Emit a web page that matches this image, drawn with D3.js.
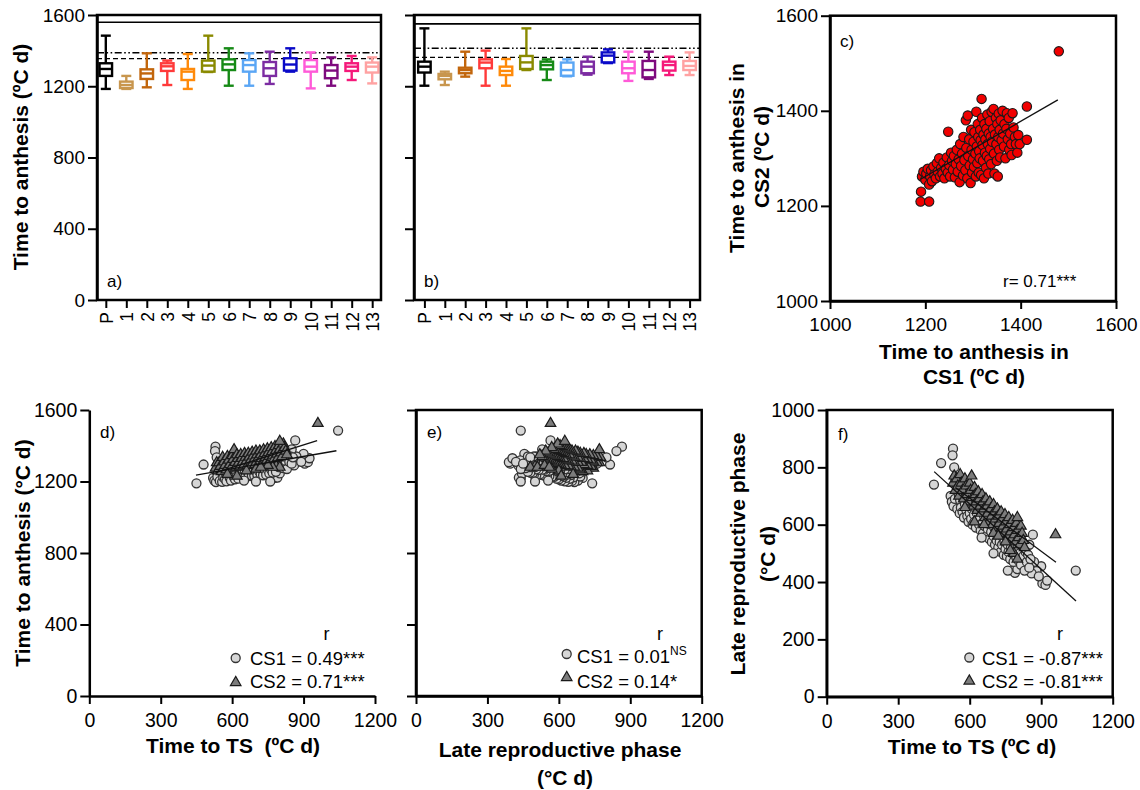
<!DOCTYPE html>
<html><head><meta charset="utf-8">
<script src="https://cdn.jsdelivr.net/npm/d3@7"></script>
<style>
body{margin:0;background:#fff}
svg text{font-family:"Liberation Sans",Arial,Helvetica,sans-serif;fill:#000;white-space:pre}
</style></head><body>
<svg id="fig" width="1140" height="790"></svg>
<script>
// Genotype groups (parent P and families 1-13)
const categories = ["P","1","2","3","4","5","6","7","8","9","10","11","12","13"];
const boxColors = ["#000000","#c8964e","#c2660c","#ff3a3a","#ff8a0a","#8a8a00","#168a16",
                   "#5aa6f5","#7c2ca2","#0a0ac8","#ff5ad8","#7e0a7e","#f5197a","#ffa2a2"];

// Time to anthesis (ºC d): [min, q1, median, q3, max] per group
const boxStatsCS1 = [
  [1185,1258,1297,1329,1484],[1185,1190,1207,1226,1258],[1194,1241,1272,1295,1385],
  [1207,1286,1312,1329,1344],[1185,1235,1282,1297,1381],[1280,1282,1316,1344,1484],
  [1203,1291,1323,1351,1413],[1203,1282,1319,1347,1385],[1213,1258,1301,1336,1394],
  [1282,1288,1322,1357,1413],[1188,1282,1310,1347,1390],[1203,1245,1288,1319,1362],
  [1235,1286,1310,1329,1370],[1216,1277,1310,1333,1362]
];
const boxStatsCS2 = [
  [1203,1277,1310,1338,1525],[1207,1239,1258,1269,1282],[1254,1273,1291,1304,1394],
  [1203,1301,1333,1351,1400],[1203,1263,1286,1310,1353],[1291,1297,1334,1370,1525],
  [1235,1295,1319,1338,1351],[1256,1259,1291,1333,1351],[1265,1273,1310,1338,1366],
  [1330,1334,1372,1390,1407],[1230,1273,1301,1338,1394],[1241,1250,1291,1342,1394],
  [1263,1288,1319,1338,1366],[1263,1291,1314,1342,1390]
];
// Reference lines: solid, dash-dot-dot, dashed
const refLinesCS1 = [1559,1388,1355];
const refLinesCS2 = [1550,1413,1362];

// Time to anthesis in CS1 vs CS2 (ºC d), one pair per genotype
const anthesisCS1CS2 = [
  [1190,1209],[1208,1209],[1191,1230],[1193,1262],[1196,1272],[1200,1255],[1202,1268],[1205,1278],
  [1208,1245],[1210,1262],[1212,1275],[1214,1252],[1217,1283],[1219,1266],[1222,1258],[1224,1290],
  [1226,1272],[1229,1300],[1231,1262],[1233,1280],[1236,1268],[1238,1291],[1240,1258],[1243,1278],
  [1245,1302],[1247,1270],[1248,1356],[1250,1286],[1252,1262],[1254,1312],[1256,1295],[1258,1276],
  [1260,1305],[1262,1260],[1264,1288],[1266,1318],[1268,1272],[1270,1298],[1272,1250],[1273,1330],
  [1275,1284],[1277,1310],[1279,1264],[1280,1345],[1282,1296],[1284,1275],[1285,1380],[1286,1322],
  [1288,1258],[1289,1390],[1290,1305],[1292,1340],[1293,1285],[1295,1248],[1296,1360],[1297,1318],
  [1298,1270],[1300,1298],[1301,1335],[1302,1282],[1303,1355],[1305,1310],[1306,1262],[1307,1398],
  [1308,1325],[1309,1290],[1310,1372],[1311,1345],[1312,1270],[1313,1315],[1314,1300],[1315,1360],
  [1316,1338],[1317,1265],[1318,1425],[1319,1385],[1320,1328],[1321,1295],[1322,1350],[1323,1258],
  [1324,1372],[1325,1312],[1326,1340],[1327,1280],[1328,1362],[1329,1305],[1330,1392],[1331,1330],
  [1332,1268],[1333,1352],[1334,1298],[1335,1378],[1336,1320],[1337,1345],[1338,1288],[1339,1398],
  [1340,1335],[1342,1362],[1343,1404],[1344,1310],[1345,1268],[1346,1350],[1348,1385],[1349,1330],
  [1350,1295],[1351,1372],[1352,1262],[1353,1345],[1354,1394],[1355,1318],[1356,1360],[1357,1302],
  [1358,1380],[1360,1338],[1362,1400],[1363,1352],[1365,1325],[1366,1372],[1368,1300],[1370,1362],
  [1371,1395],[1373,1340],[1375,1385],[1376,1318],[1378,1352],[1380,1330],[1381,1307],[1383,1395],
  [1385,1365],[1388,1345],[1390,1330],[1393,1312],[1395,1349],[1398,1330],[1413,1409],[1413,1339],
  [1480,1525]
];

// [time to TS, late reproductive phase] (ºC d) per genotype
const phasesCS1 = [
  [450,740],[480,815],[530,865],[528,842],[535,800],[540,760],[1045,440],[905,395],[918,390],[925,405],
  [900,455],[880,438],[860,430],[870,470],[890,420],[850,530],[865,565],[780,440],[790,432],[800,445],
  [520,700],[525,680],[532,665],[538,690],[545,740],[548,655],[552,720],[555,700],[558,640],[560,685],
  [563,660],[567,710],[570,645],[573,690],[576,625],[580,672],[583,700],[586,650],[590,630],[592,685],
  [595,610],[598,660],[600,640],[603,700],[606,620],[609,655],[612,600],[615,680],[618,635],[620,610],
  [623,660],[626,590],[630,640],[633,615],[636,670],[640,600],[643,625],[646,580],[650,650],[653,605],
  [656,570],[660,630],[663,595],[666,640],[670,560],[673,610],[676,585],[680,625],[683,550],[686,600],
  [690,575],[693,540],[696,610],[700,560],[703,590],[706,530],[710,575],[713,545],[716,600],[720,520],
  [723,565],[726,540],[730,505],[733,580],[736,530],[740,555],[743,495],[746,540],[750,515],[753,570],
  [756,490],[760,530],[763,505],[766,555],[770,480],[773,520],[776,545],[780,500],[784,470],[788,530],
  [792,505],[796,485],[800,520],[805,475],[810,500],[815,460],[820,530],[825,490],[830,440],[835,505],
  [840,470],[845,495],[850,450],[855,480],[700,500],[760,440],[650,555]
];
const phasesCS2 = [
  [530,745],[535,770],[540,720],[545,760],[550,735],[555,700],[560,775],[565,745],[570,720],[575,690],
  [580,760],[585,735],[590,705],[595,680],[600,745],[604,720],[608,770],[612,695],[616,665],[620,730],
  [624,705],[628,680],[632,650],[636,715],[640,690],[644,665],[648,640],[652,705],[656,680],[660,655],
  [664,625],[668,690],[672,665],[676,640],[680,610],[684,680],[688,655],[692,630],[696,600],[700,670],
  [704,645],[708,620],[712,590],[716,655],[720,630],[724,605],[728,580],[732,645],[736,620],[740,595],
  [744,570],[748,635],[752,610],[756,585],[760,560],[764,625],[768,600],[772,575],[776,550],[780,615],
  [784,590],[788,565],[792,540],[796,605],[800,580],[805,555],[810,530],[815,595],[820,570],[825,545],
  [830,520],[785,500],[800,480],[770,510],[660,600],[700,570],[620,610],[580,660],[750,540],[720,560],
  [800,625],[960,565]
];

// Fitted regression lines (end points)
const fitC = [[1190,1256],[1478,1423]];
const fitD_CS1 = [[448,1236],[1038,1372]];
const fitD_CS2 = [[530,1250],[957,1428]];
const fitF_CS1 = [[451,785],[1046,334]];
const fitF_CS2 = [[540,730],[962,469]];

// Correlation legends
const legendD = ["CS1 = 0.49***","CS2 = 0.71***"];
const legendE = [["CS1 = 0.01","NS"],["CS2 = 0.14*",""]];
const legendF = ["CS1 = -0.87***","CS2 = -0.81***"];

const ticksAnth = [0,400,800,1200,1600];
const ticksC = [1000,1200,1400,1600];
const ticksTS = [0,300,600,900,1200];
const ticksLRP = [0,200,400,600,800,1000];

// ---------------------------------------------------------------
const svg = d3.select("#fig");
const AX = 2.5;
const plain = d3.format("d");

function styleAxis(sel, fs){
  sel.select(".domain").attr("stroke","#000").attr("stroke-width",AX);
  sel.selectAll(".tick line").attr("stroke","#000").attr("stroke-width",2);
  sel.selectAll(".tick text").attr("font-size",fs).attr("fill","#000")
     .style("font-family",'"Liberation Sans",Arial,sans-serif');
}
function leftAxis(scale, x, ticks, showLabels, fs){
  const ax = d3.axisLeft(scale).tickValues(ticks).tickSize(9).tickSizeOuter(0).tickPadding(3)
     .tickFormat(showLabels ? plain : "");
  const g = svg.append("g").attr("transform",`translate(${x},0)`).call(ax);
  styleAxis(g, fs);
  return g;
}
function bottomAxis(scale, y, ticks, fs){
  const ax = d3.axisBottom(scale).tickValues(ticks).tickSize(8).tickSizeOuter(0).tickPadding(9)
     .tickFormat(plain);
  const g = svg.append("g").attr("transform",`translate(0,${y})`).call(ax);
  styleAxis(g, fs);
  return g;
}
function frame(x0,x1,y0,y1){
  svg.append("rect").attr("x",x0).attr("y",y1).attr("width",x1-x0).attr("height",y0-y1)
     .attr("fill","none").attr("stroke","#000").attr("stroke-width",AX);
}
function text(x,y,t,opt={}){
  const el = svg.append("text").attr("x",x).attr("y",y).text(t)
     .attr("font-size",opt.fs||18).attr("text-anchor",opt.anchor||"start")
     .attr("font-weight",opt.bold?"bold":"normal");
  return el;
}
function vtext(cx,cy,t,fs){
  svg.append("text").attr("transform",`translate(${cx},${cy}) rotate(-90)`)
     .attr("text-anchor","middle").attr("dy","0.35em")
     .attr("font-size",fs).attr("font-weight","bold").text(t);
}

// ---------- Panels a) and b): box plots ----------
const yBox = d3.scaleLinear().domain([0,1600]).range([300,15]);
function boxPanel(x0, x1, pad, stats, refs, tag){
  const x = d3.scalePoint().domain(categories).range([x0,x1]).padding(pad);
  const g = svg.append("g");
  const dashes = [null,"7,2.5,1.6,2.5,1.6,2.5","5,3"];
  refs.forEach((v,i)=>{
    g.append("line").attr("x1",x0).attr("x2",x1).attr("y1",yBox(v)).attr("y2",yBox(v))
     .attr("stroke","#000").attr("stroke-width",i===0?1.6:1.4)
     .attr("stroke-dasharray",dashes[i]);
  });
  const bw = 12.5, cw = 10;
  stats.forEach((s,i)=>{
    const cx = x(categories[i]), c = boxColors[i];
    const [mn,q1,md,q3,mx] = s;
    const bg = g.append("g").attr("stroke",c).attr("stroke-width",2.4).attr("fill","none");
    bg.append("line").attr("x1",cx).attr("x2",cx).attr("y1",yBox(mx)).attr("y2",yBox(q3));
    bg.append("line").attr("x1",cx).attr("x2",cx).attr("y1",yBox(q1)).attr("y2",yBox(mn));
    bg.append("line").attr("x1",cx-cw/2).attr("x2",cx+cw/2).attr("y1",yBox(mx)).attr("y2",yBox(mx));
    bg.append("line").attr("x1",cx-cw/2).attr("x2",cx+cw/2).attr("y1",yBox(mn)).attr("y2",yBox(mn));
    bg.append("rect").attr("x",cx-bw/2).attr("y",yBox(q3)).attr("width",bw)
      .attr("height",yBox(q1)-yBox(q3)).attr("fill","#fff");
    bg.append("line").attr("x1",cx-bw/2).attr("x2",cx+bw/2).attr("y1",yBox(md)).attr("y2",yBox(md));
  });
  frame(x0,x1,300,15);
  const xa = d3.axisBottom(x).tickSize(8).tickSizeOuter(0);
  const gx = svg.append("g").attr("transform","translate(0,300)").call(xa);
  styleAxis(gx, 17.5);
  gx.select(".domain").remove();
  gx.selectAll(".tick text").attr("transform","rotate(-90)").attr("x",-12).attr("y",0)
    .attr("dy","0.36em").attr("text-anchor","end");
  text(x0+10, 287, tag, {fs:17});
  return x;
}
boxPanel(97, 381, 0.43, boxStatsCS1, refLinesCS1, "a)");
leftAxis(yBox, 97, ticksAnth, true, 19);
boxPanel(414, 700, 0.51, boxStatsCS2, refLinesCS2, "b)");
leftAxis(yBox, 414, ticksAnth, false, 19);
vtext(21, 157, "Time to anthesis (ºC d)", 21);

// ---------- Panel c): CS1 vs CS2 anthesis ----------
const xC = d3.scaleLinear().domain([1000,1600]).range([830,1116]);
const yC = d3.scaleLinear().domain([1000,1600]).range([301,15.7]);
frame(830,1116,301,15.7);
svg.append("g").selectAll("circle").data(anthesisCS1CS2).join("circle")
  .attr("cx",d=>xC(d[0])).attr("cy",d=>yC(d[1])).attr("r",4.7)
  .attr("fill","#f00000").attr("stroke","#1a1a1a").attr("stroke-width",1.1);
svg.append("line").attr("x1",xC(fitC[0][0])).attr("y1",yC(fitC[0][1]))
  .attr("x2",xC(fitC[1][0])).attr("y2",yC(fitC[1][1])).attr("stroke","#111").attr("stroke-width",1.3);
leftAxis(yC, 830, ticksC, true, 19);
bottomAxis(xC, 301, ticksC, 19);
text(840, 47, "c)", {fs:17});
text(1003, 287, "r= 0.71***", {fs:17});
svg.append("text").attr("transform","translate(737,158) rotate(-90)").attr("text-anchor","middle")
  .attr("dy","0.35em").attr("font-size",21).attr("font-weight","bold").text("Time to anthesis in");
svg.append("text").attr("transform","translate(762,157) rotate(-90)").attr("text-anchor","middle")
  .attr("dy","0.35em").attr("font-size",21).attr("font-weight","bold").text("CS2 (ºC d)");
text(974, 359, "Time to anthesis in", {fs:21, bold:true, anchor:"middle"});
text(974, 384, "CS1 (ºC d)", {fs:21, bold:true, anchor:"middle"});

// ---------- Shared scatter helpers ----------
function circles(data, x, y, fx, fy){
  svg.append("g").selectAll("circle").data(data).join("circle")
    .attr("cx",d=>x(fx(d))).attr("cy",d=>y(fy(d))).attr("r",4.5)
    .attr("fill","#d6d6d6").attr("stroke","#333").attr("stroke-width",1.3);
}
const tri = d3.symbol(d3.symbolTriangle, 48);
function triangles(data, x, y, fx, fy){
  svg.append("g").selectAll("path").data(data).join("path")
    .attr("d",tri).attr("transform",d=>`translate(${x(fx(d))},${y(fy(d))})`)
    .attr("fill","#7c7c7c").attr("stroke","#1a1a1a").attr("stroke-width",1.2);
}
function fitLine(pts, x, y){
  svg.append("line").attr("x1",x(pts[0][0])).attr("y1",y(pts[0][1]))
    .attr("x2",x(pts[1][0])).attr("y2",y(pts[1][1])).attr("stroke","#111").attr("stroke-width",1.3);
}
function legendMarks(cx, cyCircle, cyTri){
  svg.append("circle").attr("cx",cx).attr("cy",cyCircle).attr("r",4.5)
    .attr("fill","#d6d6d6").attr("stroke","#333").attr("stroke-width",1.3);
  svg.append("path").attr("d",tri).attr("transform",`translate(${cx},${cyTri})`)
    .attr("fill","#7c7c7c").attr("stroke","#1a1a1a").attr("stroke-width",1.2);
}
// anthesis = time to TS + late reproductive phase
const ts = d=>d[0], lrp = d=>d[1], anth = d=>d[0]+d[1];

// ---------- Panel d): anthesis vs time to TS ----------
const xD = d3.scaleLinear().domain([0,1200]).range([89.3,375]);
const yD = d3.scaleLinear().domain([0,1600]).range([696,410]);
circles(phasesCS1, xD, yD, ts, anth);
triangles(phasesCS2, xD, yD, ts, anth);
fitLine(fitD_CS1, xD, yD);
fitLine(fitD_CS2, xD, yD);
leftAxis(yD, 89.3, ticksAnth, true, 19.5);
bottomAxis(xD, 696, ticksTS, 19.5);
text(100, 438, "d)", {fs:17});
vtext(23, 553, "Time to anthesis (°C d)", 21);
text(233, 753, "Time to TS  (ºC d)", {fs:21, bold:true, anchor:"middle"});
text(326.5, 640, "r", {fs:18, anchor:"middle"});
legendMarks(235.7, 658, 682.5);
text(250, 665, legendD[0], {fs:18.5});
text(250, 688, legendD[1], {fs:18.5});

// ---------- Panel e): anthesis vs late reproductive phase ----------
const xE = d3.scaleLinear().domain([0,1200]).range([416,701.7]);
const yE = d3.scaleLinear().domain([0,1600]).range([696,410]);
frame(416,701.7,696,410);
circles(phasesCS1, xE, yE, lrp, anth);
triangles(phasesCS2, xE, yE, lrp, anth);
leftAxis(yE, 416, ticksAnth, false, 19.5);
bottomAxis(xE, 696, ticksTS, 19.5);
text(427, 438, "e)", {fs:17});
text(560, 757, "Late reproductive phase", {fs:21, bold:true, anchor:"middle"});
text(565, 785, "(°C d)", {fs:21, bold:true, anchor:"middle"});
text(660, 640, "r", {fs:18, anchor:"middle"});
legendMarks(566.7, 654, 677.5);
legendE.forEach((l,i)=>{
  const t = text(577, 663 + i*25, l[0], {fs:18.5});
  if(l[1]) t.append("tspan").attr("font-size",12).attr("dy",-8).text(l[1]);
});

// ---------- Panel f): late reproductive phase vs time to TS ----------
const xF = d3.scaleLinear().domain([0,1200]).range([826.7,1112.7]);
const yF = d3.scaleLinear().domain([0,1000]).range([696.7,410]);
frame(826.7,1112.7,696.7,410);
circles(phasesCS1, xF, yF, ts, lrp);
triangles(phasesCS2, xF, yF, ts, lrp);
fitLine(fitF_CS1, xF, yF);
fitLine(fitF_CS2, xF, yF);
leftAxis(yF, 826.7, ticksLRP, true, 19.5);
bottomAxis(xF, 696.7, ticksTS, 19.5);
text(838, 440, "f)", {fs:17});
svg.append("text").attr("transform","translate(738,554) rotate(-90)").attr("text-anchor","middle")
  .attr("dy","0.35em").attr("font-size",21).attr("font-weight","bold").text("Late reproductive phase");
svg.append("text").attr("transform","translate(768,554) rotate(-90)").attr("text-anchor","middle")
  .attr("dy","0.35em").attr("font-size",21).attr("font-weight","bold").text("(°C d)");
text(972, 754, "Time to TS (ºC d)", {fs:21, bold:true, anchor:"middle"});
text(1060, 640, "r", {fs:18, anchor:"middle"});
legendMarks(969.3, 657.5, 681);
text(982, 665, legendF[0], {fs:18.5});
text(982, 688, legendF[1], {fs:18.5});
</script>
</body></html>
